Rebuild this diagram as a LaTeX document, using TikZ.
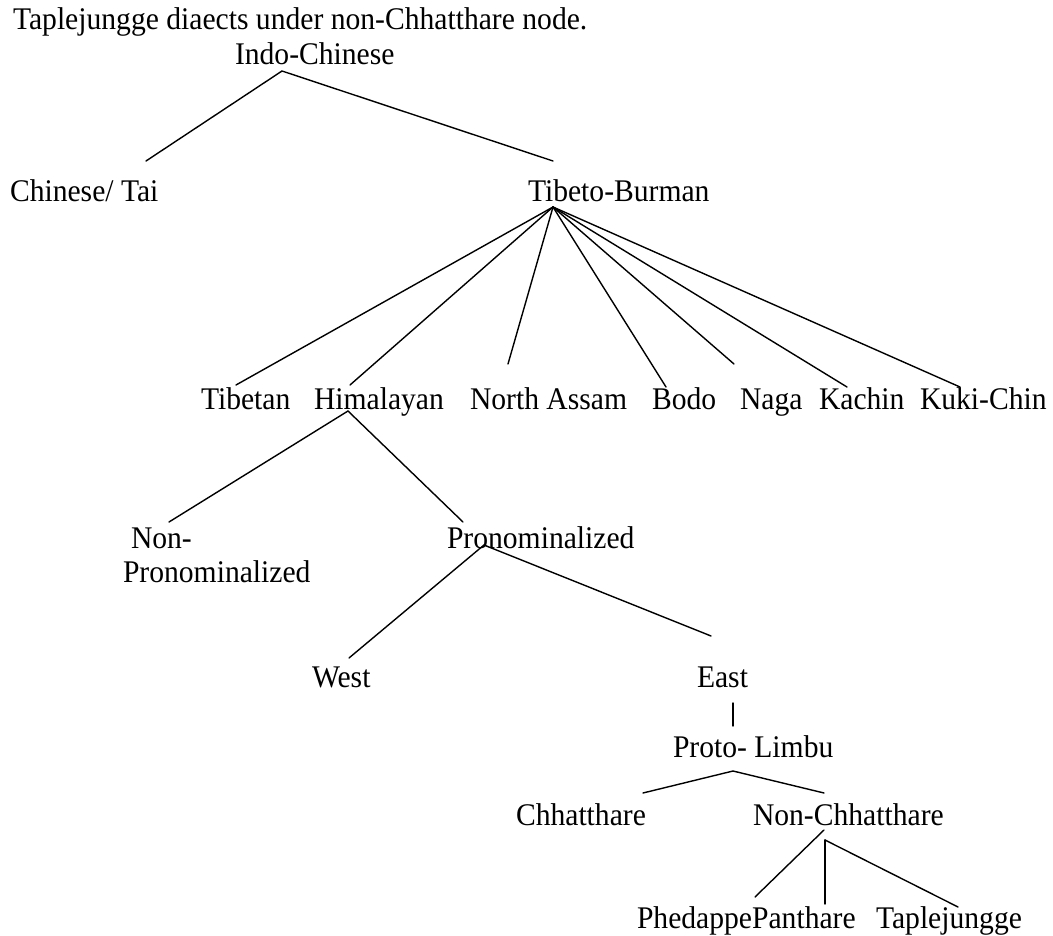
\documentclass[tikz,border=0pt]{standalone}
\usepackage{fontspec}
\setmainfont{Liberation Serif}[FakeStretch=0.94]
\begin{document}
\begin{tikzpicture}[x=1pt,y=-1pt,
  lbl/.style={anchor=base west,inner sep=0pt,outer sep=0pt,
              font=\fontsize{31.5}{36}\selectfont},
  branch/.style={line width=1.4pt,line cap=round}]
\useasboundingbox (0,0) rectangle (1053,936);

% heading line
\node[lbl] (title) at (13,30) {Taplejungge diaects under non-Chhatthare node.};

% tree labels
\node[lbl] (indo)    at (235,65)  {Indo-Chinese};
\node[lbl] (chinese) at (10,202)  {Chinese/ Tai};
\node[lbl] (tb)      at (528,202) {Tibeto-Burman};

\node[lbl] (tibetan)  at (201,409) {Tibetan};
\node[lbl] (himal)    at (314,409) {Himalayan};
\node[lbl] (nassam)   at (470,409) {North Assam};
\node[lbl] (bodo)     at (652,409) {Bodo};
\node[lbl] (naga)     at (740,409) {Naga};
\node[lbl] (kachin)   at (819,409) {Kachin};
\node[lbl] (kukichin) at (920,409) {Kuki-Chin};

\node[lbl] (nonpron)   at (131,548) {Non-};
\node[lbl] (nonpron-b) at (123,582) {Pronominalized};
\node[lbl] (pron)      at (447,548) {Pronominalized};

\node[lbl] (west) at (312,687) {West};
\node[lbl] (east) at (697,687) {East};

\node[lbl] (plimbu) at (673,757) {Proto- Limbu};

\node[lbl] (chhat)   at (516,825) {Chhatthare};
\node[lbl] (nonchh)  at (753,825) {Non-Chhatthare};

\node[lbl] (phedappe) at (637,928) {PhedappePanthare};
\node[lbl] (taplej)   at (876,928) {Taplejungge};

% branch end points
\coordinate (indo-a)    at (282,71);
\coordinate (chinese-t) at (146,161);
\coordinate (tb-t)      at (553,161);

\coordinate (tb-a)       at (553,207);
\coordinate (tibetan-t)  at (236,385);
\coordinate (himal-t)    at (350,385);
\coordinate (nassam-t)   at (508,364);
\coordinate (bodo-t)     at (666,387);
\coordinate (naga-t)     at (734,364);
\coordinate (kachin-t)   at (847,387);
\coordinate (kukichin-t) at (960,387);

\coordinate (himal-a)   at (348,411);
\coordinate (nonpron-t) at (169,522);
\coordinate (pron-t)    at (463,522);

\coordinate (pron-a) at (484,545);
\coordinate (west-t) at (349,658);
\coordinate (east-t) at (711,636);

\coordinate (east-b)   at (733,703);
\coordinate (plimbu-t) at (733,726);

\coordinate (plimbu-a) at (733,771);
\coordinate (chhat-t)  at (643,793);
\coordinate (nonchh-t) at (824,793);

\coordinate (nonchh-a)  at (824,830);
\coordinate (nonchh-a2) at (825,840);
\coordinate (phedappe-t)  at (755,897);
\coordinate (phedappe-t2) at (825,904);
\coordinate (taplej-t)    at (958,907);

% branches
\draw[branch] (chinese-t) -- (indo-a) -- (tb-t);
\foreach \c in {tibetan,himal,nassam,bodo,naga,kachin,kukichin}
  \draw[branch] (tb-a) -- (\c-t);
\draw[branch] (nonpron-t) -- (himal-a) -- (pron-t);
\draw[branch] (west-t) -- (pron-a) -- (east-t);
\draw[branch] (east-b) -- (plimbu-t);
\draw[branch] (chhat-t) -- (plimbu-a) -- (nonchh-t);
\draw[branch] (nonchh-a) -- (phedappe-t);
\draw[branch] (nonchh-a2) -- (phedappe-t2);
\draw[branch] (nonchh-a2) -- (taplej-t);
\end{tikzpicture}
\end{document}
